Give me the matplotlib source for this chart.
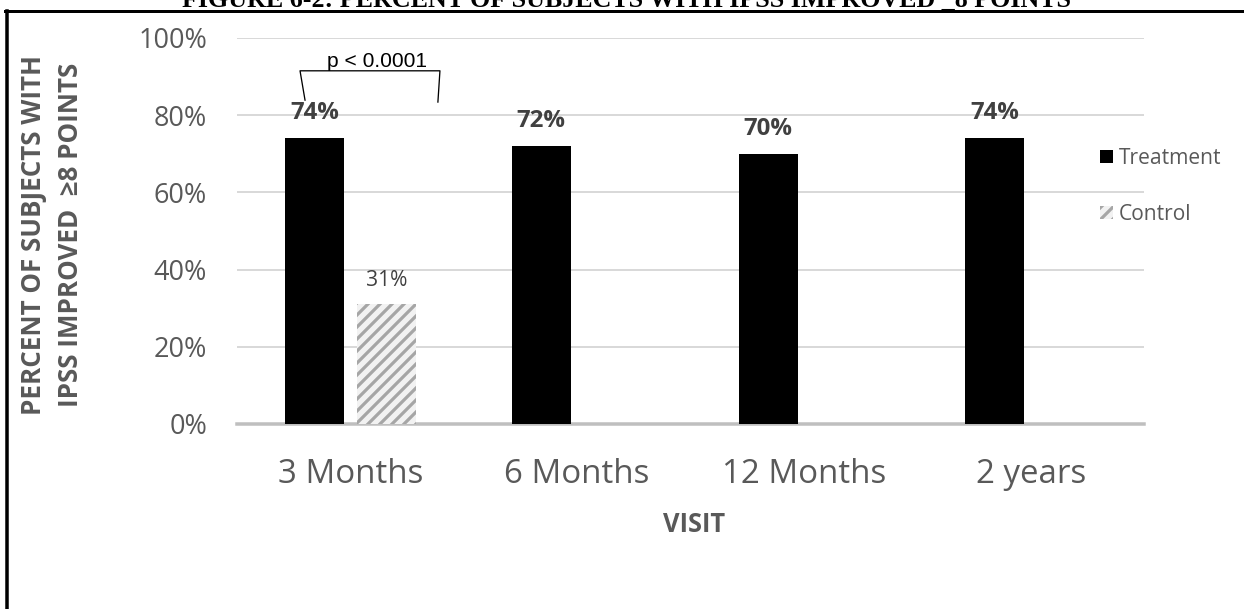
import numpy as np
import matplotlib
matplotlib.use('Agg')
import matplotlib.pyplot as plt
from matplotlib.lines import Line2D

# data
categories = ['3 Months', '6 Months', '12 Months', '2 years']
treatment = [74, 72, 70, 74]
control = [31, None, None, None]
yticks = [0, 20, 40, 60, 80, 100]

plt.rcParams['font.family'] = ['Open Sans', 'DejaVu Sans']
plt.rcParams['hatch.linewidth'] = 3.2

# dpi 72 so that 1 pt == 1 px
W, H = 1244, 609
fig = plt.figure(figsize=(W / 72, H / 72), dpi=72)
ax = fig.add_axes([237 / W, 1 - 424 / H, (1144 - 237) / W, (424 - 38) / H])

x = np.arange(len(categories))
bw = 0.26
off = 0.158
tbars = ax.bar(x - off, treatment, bw, color='black', label='Treatment', zorder=3)

cx = np.array([i for i, v in enumerate(control) if v is not None])
cv = [v for v in control if v is not None]
cbars = ax.bar(cx + off, cv, bw, color='#f2f2f2', edgecolor='#a6a6a6', hatch='//',
               linewidth=0, label='Control', zorder=3)

ax.bar_label(tbars, labels=[f'{v}%' for v in treatment], padding=13,
             fontsize=24, fontweight='bold', color='#404040')
ax.bar_label(cbars, labels=[f'{v}%' for v in cv], padding=13,
             fontsize=21, color='#404040')

# axes styling
ax.set_xlim(-0.5, len(categories) - 0.5)
ax.set_ylim(0, 100)
ax.set_yticks(yticks)
ax.set_yticklabels([f'{t}%' for t in yticks])
ax.set_xticks(x)
ax.set_xticklabels(categories)
ax.tick_params(axis='y', length=0, pad=30, labelsize=27, labelcolor='#595959')
ax.tick_params(axis='x', length=0, pad=34, labelsize=33, labelcolor='#595959')
for s in ['top', 'right', 'left']:
    ax.spines[s].set_visible(False)
ax.spines['bottom'].set_color('#bfbfbf')
ax.spines['bottom'].set_linewidth(3.5)
ax.grid(axis='y', color='#d9d9d9', linewidth=2)
ax.set_axisbelow(True)

# significance bracket
ax.plot([-0.200, -0.222, 0.395, 0.386], [83.9, 91.5, 91.5, 83.4],
        color='black', lw=1.3, clip_on=False, zorder=4)
ax.text(0.117, 92.6, 'p < 0.0001', ha='center', va='baseline', fontsize=21,
        family=['Liberation Sans', 'DejaVu Sans'], color='black')

# axis titles
fig.text(694 / W, 1 - 532 / H, 'VISIT', ha='center', va='baseline',
         fontsize=25.5, fontweight='bold', color='#595959')
fig.text(52 / W, 1 - 235 / H, 'PERCENT OF SUBJECTS WITH\nIPSS IMPROVED  \u22658 POINTS',
         rotation=90, ha='center', va='center', ma='center', fontsize=26,
         fontweight='bold', color='#595959', linespacing=1.45)

# legend
leg = ax.legend(loc='upper left', bbox_to_anchor=(1100 / W, 1 - 148 / H),
                bbox_transform=fig.transFigure, frameon=False, fontsize=21,
                handlelength=0.6, handleheight=0.6, handletextpad=0.3,
                labelspacing=1.65, borderpad=0, borderaxespad=0)
for t in leg.get_texts():
    t.set_color('#595959')

# page frame and the caption above it, clipped at the top as in the source
fig.add_artist(Line2D([5 / W, 1], [1 - 10.5 / H] * 2, transform=fig.transFigure,
                      color='black', lw=3))
fig.add_artist(Line2D([7 / W] * 2, [0, 1 - 10.5 / H], transform=fig.transFigure,
                      color='black', lw=3.5))
fig.text(627 / W, 1 - 7 / H, 'FIGURE 6-2: PERCENT OF SUBJECTS WITH IPSS IMPROVED _8 POINTS',
         ha='center', va='baseline', family=['Liberation Serif', 'DejaVu Serif'],
         fontweight='bold', fontsize=26)

fig.savefig('out.png', dpi=72)
